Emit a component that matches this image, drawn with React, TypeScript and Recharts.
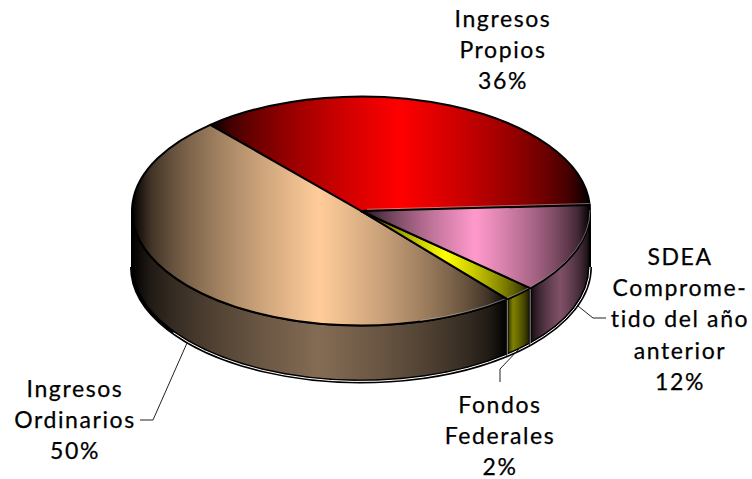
import React from "react";
import { PieChart, Pie } from "recharts";

const names = ["Ingresos Propios", "Ingresos Ordinarios", "Fondos Federales", "SDEA"];
// slightly finer than the printed percentages, read from the slice edges
const values = [35.6, 49.6, 2.2, 12.6];
const labelRows = [
  ["Ingresos", "Propios", "36%"],
  ["Ingresos", "Ordinarios", "50%"],
  ["Fondos", "Federales", "2%"],
  ["SDEA", "Comprome-", "tido del año", "anterior", "12%"],
];
const topColors = [
  [255, 0, 0],
  [255, 204, 153],
  [255, 255, 0],
  [255, 153, 204],
];
const sideColors = [
  [128, 0, 0],
  [132, 108, 84],
  [128, 128, 0],
  [128, 80, 104],
];
const sidePeaks = [0.5, 0.5, 0.25, 0.5];

const labelAnchors = [
  { x: 503, y: 27 },
  { x: 75, y: 397 },
  { x: 500, y: 413 },
  { x: 680, y: 265 },
];
const leaders = [
  "",
  "140,420 153,420 187,343",
  "500,382 500,369 520,348",
  "606,318 593,318 578,306",
];

const data = names.map((name, i) => ({ name, value: values[i] }));

const SQUASH = 0.5;
const DEPTH = 56;
const RAD = Math.PI / 180;
const RAMP = [0, 0.1, 0.2, 0.3, 0.4, 0.5, 0.6, 0.7, 0.8, 0.9, 1];

// black -> colour -> black, brightening fast near the ends
function rampStops(rgb: number[], peak: number) {
  const shade = (f: number) => `rgb(${rgb.map((c) => Math.round(c * Math.pow(f, 0.6))).join(",")})`;
  return (
    <>
      {RAMP.map((t) => (
        <stop key={`a${t}`} offset={t * peak} stopColor={shade(t)} />
      ))}
      {RAMP.slice(0, -1).reverse().map((t) => (
        <stop key={`b${t}`} offset={1 - t * (1 - peak)} stopColor={shade(t)} />
      ))}
    </>
  );
}

function PieSlice3D(props: any) {
  const { cx, cy, outerRadius, startAngle, endAngle, index } = props;
  const i = index ?? 0;
  const rx = outerRadius;
  const ry = outerRadius * SQUASH;
  const px = (a: number) => cx + rx * Math.cos(a * RAD);
  const py = (a: number) => cy - ry * Math.sin(a * RAD);
  const big = endAngle - startAngle > 180 ? 1 : 0;

  const top = `M${cx},${cy} L${px(startAngle)},${py(startAngle)} A${rx},${ry} 0 ${big} 0 ${px(endAngle)},${py(endAngle)} Z`;

  // wall only shows on the front half of the ellipse
  const a1 = Math.max(startAngle, 180);
  const a2 = Math.min(endAngle, 360);
  const hasWall = a2 > a1;
  const arc = (from: number, to: number, dy: number) =>
    `M${px(from)},${py(from) + dy} A${rx},${ry} 0 ${to - from > 180 ? 1 : 0} 0 ${px(to)},${py(to) + dy}`;
  const wall = hasWall
    ? `M${px(a1)},${py(a1)} A${rx},${ry} 0 ${a2 - a1 > 180 ? 1 : 0} 0 ${px(a2)},${py(a2)} L${px(a2)},${py(a2) + DEPTH} A${rx},${ry} 0 ${a2 - a1 > 180 ? 1 : 0} 1 ${px(a1)},${py(a1) + DEPTH} Z`
    : "";
  const glintFrom = Math.max(a1, 215);
  const rimFrom = Math.max(a1, 285);

  return (
    <g>
      <defs>
        <linearGradient id={`top-${i}`} x1="0" y1="0" x2="1" y2="0">
          {rampStops(topColors[i], 0.5)}
        </linearGradient>
        <linearGradient id={`side-${i}`} x1="0" y1="0" x2="1" y2="0">
          {rampStops(sideColors[i], sidePeaks[i])}
        </linearGradient>
      </defs>
      {hasWall && (
        <>
          <path d={wall} fill={`url(#side-${i})`} stroke="#000" strokeWidth={2} strokeLinejoin="round" />
          <path d={arc(a1, a2, DEPTH)} fill="none" stroke="#000" strokeWidth={4} />
          <path d={arc(glintFrom, a2, DEPTH)} fill="none" stroke="#fff" strokeWidth={1} />
          {i >= 2 && (
            <line x1={px(a1)} y1={py(a1)} x2={px(a1)} y2={py(a1) + DEPTH} stroke="#fff" strokeOpacity={0.7} strokeWidth={0.8} />
          )}
        </>
      )}
      <path d={top} fill={`url(#top-${i})`} stroke="#000" strokeWidth={2} strokeLinejoin="round" />
      {hasWall && rimFrom < a2 && (
        <path d={arc(rimFrom, a2, -1)} fill="none" stroke="#fff" strokeOpacity={0.5} strokeWidth={0.8} />
      )}
      {i === 3 && (
        <line x1={cx + 6} y1={cy - 1.7} x2={px(endAngle)} y2={py(endAngle) - 1.5} stroke="#fff" strokeOpacity={0.5} strokeWidth={0.8} />
      )}
    </g>
  );
}

function SliceLabel(props: any) {
  const i = props.index;
  const { x, y } = labelAnchors[i];
  return (
    <text x={x} y={y} textAnchor="middle" fontFamily="Lato" fontSize={23} letterSpacing={1.6} fill="#000" stroke="#000" strokeWidth={0.25}>
      {labelRows[i].map((row, r) => (
        <tspan key={r} x={x} y={y + r * 31.2}>
          {row}
        </tspan>
      ))}
    </text>
  );
}

function LeaderLine(props: any) {
  const pts = leaders[props.index];
  if (!pts) return <g />;
  return <polyline points={pts} fill="none" stroke="#222" strokeWidth={1} />;
}

export default function App() {
  return (
    <div style={{ position: "absolute", left: 0, top: 0, width: 752, height: 479 }}>
      <PieChart width={752} height={479} margin={{ top: 0, right: 0, bottom: 0, left: 0 }}>
        <Pie
          data={data}
          dataKey="value"
          nameKey="name"
          cx={361}
          cy={211}
          innerRadius={0}
          outerRadius={229}
          startAngle={3}
          endAngle={363}
          isAnimationActive={false}
          shape={PieSlice3D}
          label={SliceLabel}
          labelLine={LeaderLine}
        />
      </PieChart>
    </div>
  );
}
